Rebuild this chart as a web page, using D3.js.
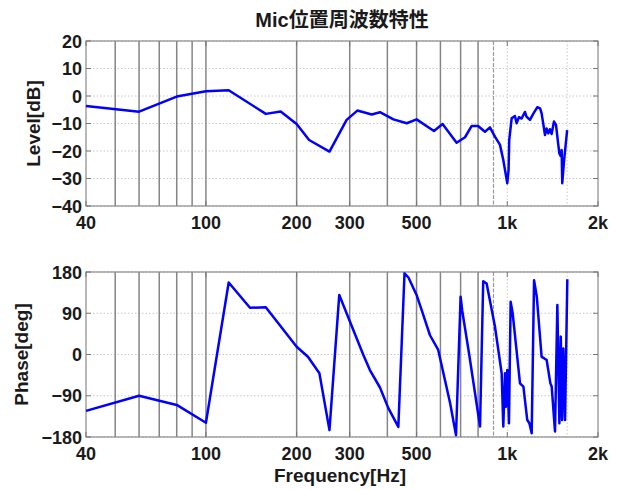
<!DOCTYPE html>
<html>
<head>
<meta charset="utf-8">
<script src="https://cdn.jsdelivr.net/npm/d3@7"></script>
<style>
  body { margin: 0; background: #fff; }
  text { font-family: "Liberation Sans", "Noto Sans CJK JP", sans-serif; fill: #1a1a1a; }
</style>
</head>
<body>
<div id="viz"></div>
<script>
// level response (Hz, dB)
const levelFreq = [40, 60, 80, 100, 119, 158, 177, 200, 220, 257, 293, 318, 355, 378, 419, 464, 500,
  571, 610, 679, 724, 762, 800, 843, 876, 910, 946, 970, 1000, 1010, 1015, 1034, 1060, 1074, 1093,
  1116, 1144, 1158, 1189, 1219, 1257, 1285, 1300, 1318, 1334, 1350, 1368, 1385, 1403, 1429, 1451,
  1466, 1488, 1503, 1515, 1522, 1542, 1580];
const levelDb = [-3.6, -5.7, -0.2, 1.7, 2.1, -6.5, -5.6, -10.2, -16, -20.2, -8.7, -5.3, -6.7, -5.9, -8.5, -9.9, -8.5,
  -12.7, -10.2, -17, -15, -10.9, -10.9, -13, -11.4, -14.8, -17.8, -23.3, -31.7, -26.9, -16, -8.1, -7.3, -9.9, -7.7,
  -8.2, -5.8, -7.5, -8.7, -6.5, -4.1, -4.5, -6.3, -10.5, -14.2, -11.8, -13.6, -12.1, -13.8, -9.3, -10.5,
  -14.8, -20.8, -21.8, -19.6, -31.7, -23.9, -12.4];

// phase response (Hz, deg)
const phaseFreq = [40, 60, 80, 100, 119, 140, 158, 200, 218, 238, 257, 277, 333, 350, 378, 403, 435, 456, 470,
  500, 520, 554, 590, 646, 676, 700, 709, 748, 812, 832, 854, 910, 958, 970, 983, 990, 1000, 1013, 1026, 1042,
  1102, 1131, 1165, 1184, 1205, 1227, 1253, 1300, 1324, 1351, 1390, 1404, 1440, 1466, 1489, 1505, 1520, 1535,
  1555, 1582];
const phaseDeg = [-123, -90, -110, -149, 157, 102, 103, 17, -5, -41, -165, 130, -1, -34, -72, -117, -158, 177, 168,
  130, 97, 42, 10, -106, -176, 126, 95, -1, -157, 160, 155, 61, -41, -157, -41, -114, -34, -150, 115, 90,
  -63, -70, -143, -150, -172, 162, 126, -5, -8, -12, -63, -70, -168, 108, -150, 39, -143, 13,
  -143, 164];

const xTicks = [40, 100, 200, 300, 500, 1000, 2000];
const xTickLabels = ["40", "100", "200", "300", "500", "1k", "2k"];
const darkGrid = [50, 60, 70, 80, 90, 100, 200, 300, 400, 500, 600, 700, 800];
const dashGrid = [900];
const lightGrid = [1000, 1580];
const levelTicks = [-40, -30, -20, -10, 0, 10, 20];
const phaseTicks = [-180, -90, 0, 90, 180];

const width = 618;
const height = 490;

const svg = d3.select("#viz").append("svg")
  .attr("width", width)
  .attr("height", height);

const x = d3.scaleLog().domain([40, 2000]).range([86, 598]);

svg.append("text")
  .attr("x", 342).attr("y", 27)
  .attr("text-anchor", "middle")
  .style("font-size", "20px").style("font-weight", "bold")
  .text("Mic位置周波数特性");

function panel(top, bottom, yDomain, yTicks, freqs, vals, yLabel, yLabelX) {
  const y = d3.scaleLinear().domain(yDomain).range([bottom, top]);
  const g = svg.append("g");

  // horizontal dotted grid
  g.selectAll(".hg").data(yTicks).enter().append("line")
    .attr("x1", x.range()[0]).attr("x2", x.range()[1])
    .attr("y1", d => y(d)).attr("y2", d => y(d))
    .attr("stroke", "#c8c8c8").attr("stroke-dasharray", "1.5,2");

  g.selectAll(".dg").data(darkGrid).enter().append("line")
    .attr("x1", d => x(d)).attr("x2", d => x(d))
    .attr("y1", top).attr("y2", bottom)
    .attr("stroke", "#858585").attr("stroke-width", 1.5);

  g.selectAll(".sg").data(dashGrid).enter().append("line")
    .attr("x1", d => x(d)).attr("x2", d => x(d))
    .attr("y1", top).attr("y2", bottom)
    .attr("stroke", "#9a9a9a").attr("stroke-width", 1.2).attr("stroke-dasharray", "4,1.5");

  g.selectAll(".lg").data(lightGrid).enter().append("line")
    .attr("x1", d => x(d)).attr("x2", d => x(d))
    .attr("y1", top).attr("y2", bottom)
    .attr("stroke", "#c8c8c8").attr("stroke-dasharray", "1.5,2");

  // frame
  g.append("rect")
    .attr("x", x.range()[0]).attr("y", top)
    .attr("width", x.range()[1] - x.range()[0]).attr("height", bottom - top)
    .attr("fill", "none").attr("stroke", "#8a8a8a").attr("stroke-width", 1.2);

  // inside ticks
  g.selectAll(".yt").data(yTicks).enter().append("path")
    .attr("d", d => `M${x.range()[0]},${y(d)}h5M${x.range()[1]},${y(d)}h-5`)
    .attr("stroke", "#777");
  g.selectAll(".xt").data(xTicks).enter().append("path")
    .attr("d", d => `M${x(d)},${bottom}v-5M${x(d)},${top}v5`)
    .attr("stroke", "#777");

  g.selectAll(".yl").data(yTicks).enter().append("text")
    .attr("x", x.range()[0] - 4).attr("y", d => y(d) + 6.5)
    .attr("text-anchor", "end")
    .style("font-size", "18px").style("font-weight", "bold")
    .text(d => d3.format("")(d));

  g.selectAll(".xl").data(xTicks).enter().append("text")
    .attr("x", d => x(d)).attr("y", bottom + 23)
    .attr("text-anchor", "middle")
    .style("font-size", "18px").style("font-weight", "bold")
    .text((d, i) => xTickLabels[i]);

  g.append("text")
    .attr("transform", `translate(${yLabelX},${(top + bottom) / 2}) rotate(-90)`)
    .attr("text-anchor", "middle")
    .style("font-size", "19px").style("font-weight", "bold")
    .text(yLabel);

  const line = d3.line()
    .x((d, i) => x(freqs[i]))
    .y(d => y(d));

  g.append("path")
    .datum(vals)
    .attr("d", line)
    .attr("fill", "none")
    .attr("stroke", "#0000ff")
    .attr("stroke-width", 2.5)
    .attr("stroke-linejoin", "round");
}

panel(41, 206, [-40, 20], levelTicks, levelFreq, levelDb, "Level[dB]", 40);
panel(272, 437, [-180, 180], phaseTicks, phaseFreq, phaseDeg, "Phase[deg]", 28);

svg.append("text")
  .attr("x", 340).attr("y", 482)
  .attr("text-anchor", "middle")
  .style("font-size", "19px").style("font-weight", "bold")
  .text("Frequency[Hz]");
</script>
</body>
</html>
